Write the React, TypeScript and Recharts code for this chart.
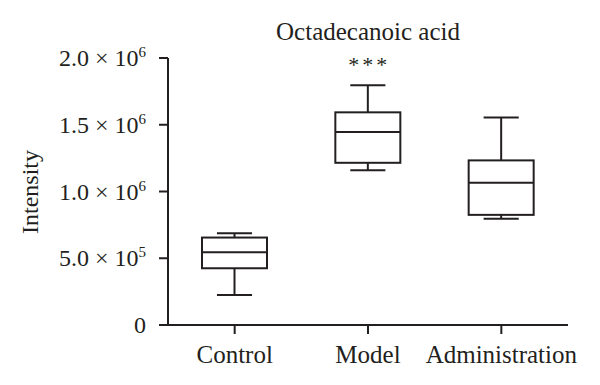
import { ComposedChart, Bar, XAxis, YAxis } from "recharts"

const groups = ["Control", "Model", "Administration"]
const minVals = [2.25e5, 1.16e6, 7.95e5]
const q1Vals = [4.25e5, 1.215e6, 8.25e5]
const medianVals = [5.45e5, 1.445e6, 1.065e6]
const q3Vals = [6.55e5, 1.593e6, 1.233e6]
const maxVals = [6.88e5, 1.795e6, 1.555e6]
const marks = ["", "***", ""]
const yTicks = [0, 5e5, 1e6, 1.5e6, 2e6]

const INK = "#231f20"
const FONT = "'Liberation Serif', 'Times New Roman', serif"

const data = groups.map((g, i) => ({
    group: g,
    min: minVals[i], q1: q1Vals[i], median: medianVals[i], q3: q3Vals[i], max: maxVals[i],
    mark: marks[i],
}))

function BoxShape(props: any) {
    const { x, y, width, height, payload } = props
    const top = Math.min(y, y + height)
    const h = Math.abs(height)
    const k = h / (payload.max - payload.min)
    const py = (v: number) => top + (payload.max - v) * k
    const cx = x + width / 2
    const cap = width * 0.27
    return (
        <g>
            <g stroke={INK} strokeWidth={2} fill="none">
                <line x1={cx} x2={cx} y1={py(payload.max)} y2={py(payload.q3)} />
                <line x1={cx} x2={cx} y1={py(payload.q1)} y2={py(payload.min)} />
                <line x1={cx - cap} x2={cx + cap} y1={py(payload.max)} y2={py(payload.max)} />
                <line x1={cx - cap} x2={cx + cap} y1={py(payload.min)} y2={py(payload.min)} />
                <rect x={x} y={py(payload.q3)} width={width} height={py(payload.q1) - py(payload.q3)} />
                <line x1={x} x2={x + width} y1={py(payload.median)} y2={py(payload.median)} />
            </g>
            {payload.mark ? (
                <text x={cx + 1.5} y={py(payload.max) - 13} textAnchor="middle" fontFamily={FONT}
                    fontSize={22} letterSpacing={3} fill={INK}>{payload.mark}</text>
            ) : null}
        </g>
    )
}

function YTick({ x, y, payload }: any) {
    const v = payload.value as number
    if (v === 0) {
        return <text x={x - 11} y={y + 8} textAnchor="end" fontFamily={FONT} fontSize={24} fill={INK}>0</text>
    }
    const exp = Math.floor(Math.log10(v))
    const mant = (v / Math.pow(10, exp)).toFixed(1)
    return (
        <text x={x - 11} y={y + 8} textAnchor="end" fontFamily={FONT} fontSize={24} fill={INK}>
            {mant} × 10<tspan dy={-9} fontSize={15}>{exp}</tspan>
        </text>
    )
}

function XTick({ x, y, payload }: any) {
    return (
        <text x={x} y={y} dy={27} textAnchor="middle" fontFamily={FONT} fontSize={25} fill={INK}>
            {payload.value}
        </text>
    )
}

function YLabel() {
    return (
        <text x={30} y={192} transform="rotate(-90 30 192)" textAnchor="middle" dominantBaseline="central"
            fontFamily={FONT} fontSize={24} fill={INK}>Intensity</text>
    )
}

export default function App() {
    return (
        <div style={{ position: "absolute", left: 0, top: 0, width: 600, height: 385, background: "#fff" }}>
            <div style={{
                position: "absolute", left: 168, width: 400, top: 18.5, textAlign: "center",
                fontFamily: FONT, fontSize: 25, lineHeight: "25px", color: INK,
            }}>Octadecanoic acid</div>
            <ComposedChart width={600} height={385} data={data}
                margin={{ top: 58, right: 32, bottom: 0, left: 0 }}>
                <XAxis dataKey="group" height={60} tickSize={9} tickLine={{ stroke: INK, strokeWidth: 2 }}
                    axisLine={{ stroke: INK, strokeWidth: 2 }} tick={<XTick />} interval={0} />
                <YAxis width={168} domain={[0, 2e6]} ticks={yTicks} tickSize={9} allowDataOverflow
                    tickLine={{ stroke: INK, strokeWidth: 2 }} axisLine={{ stroke: INK, strokeWidth: 2 }}
                    tick={<YTick />} label={<YLabel />} />
                <Bar dataKey={(d: any) => [d.min, d.max]} barSize={65} shape={<BoxShape />}
                    isAnimationActive={false} />
            </ComposedChart>
        </div>
    )
}
